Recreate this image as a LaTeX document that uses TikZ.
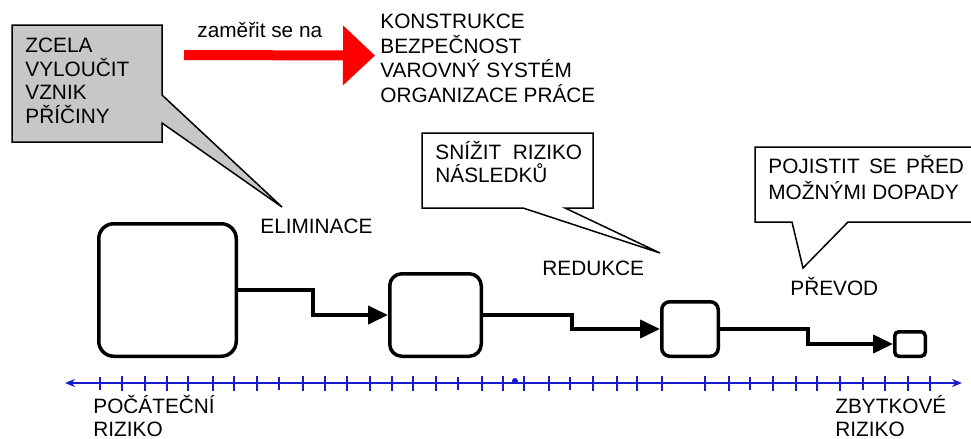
\documentclass[tikz,border=0pt]{standalone}
\usepackage{fontspec}
\setmainfont{Liberation Sans}
\usetikzlibrary{arrows.meta}
\definecolor{axisblue}{RGB}{25,25,205}

\begin{document}
\begin{tikzpicture}[x=0.5pt,y=-0.5pt,
    word/.style={inner sep=0pt, anchor=base west, font=\fontsize{10.4}{12.5}\selectfont},
    lines/.style={inner sep=0pt, anchor=north west, align=left, font=\fontsize{10.4}{#1}\selectfont},
    box/.style={draw, line width=1.75pt, rounded corners=#1},
    flow/.style={line width=2pt, -{Triangle[length=10pt,width=9pt]}},
    bubble/.style={draw, line width=0.75pt},
    tick/.style={axisblue, line width=1.4pt}]
    \useasboundingbox (0,0) rectangle (971,439);

      % callouts
      \draw[bubble, fill=black!22] (12,25)--(162,25)--(162,95)--(282,207)--(162,123)--(162,142)--(12,142)--cycle;
      \draw[bubble, fill=white] (422,133)--(593,133)--(593,208)--(565,208)--(660,253)--(523,208)--(422,208)--cycle;
      \draw[bubble, fill=white] (755,147)--(985,147)--(985,222)--(848,222)--(803,268)--(792,222)--(755,222)--cycle;

      \draw (25,32)node[lines=11.8pt](zcela){\rule{0pt}{10pt}ZCELA\\VYLOUČIT\\VZNIK\\PŘÍČINY};
      \draw (435,139)node[lines=11.75pt](snizit){\rule{0pt}{10pt}SNÍŽIT\ \ RIZIKO\\NÁSLEDKŮ};
      \draw (768,153)node[lines=13pt](pojistit){\rule{0pt}{10pt}POJISTIT\hspace{0.45em}SE\hspace{0.45em}PŘED\\MOŽNÝMI DOPADY};

      % red arrow
      \draw (197,38)node[word](zamerit){zaměřit se na};
      \draw (380,8)node[lines=12.35pt](list){\rule{0pt}{10pt}KONSTRUKCE\\BEZPEČNOST\\VAROVNÝ SYSTÉM\\ORGANIZACE PRÁCE};
      \coordinate (tail) at (184,55);
      \draw[red, line width=5pt, shorten >=2.5pt, -{Triangle[length=16pt,width=29pt]}] (tail) -- (list.west);

      \draw (260,233)node[word](elim){ELIMINACE};
      \draw (542,275)node[word](redukce){REDUKCE};
      \draw (790,295)node[word](prevod){PŘEVOD};

      % risk boxes
      \node[box=7.5pt, minimum width=68.75pt, minimum height=66.25pt] (b1) at (167.5,290) {};
      \node[box=6pt, minimum width=45.75pt, minimum height=41.25pt] (b2) at (435.5,315) {};
      \node[box=4pt, minimum width=28.25pt, minimum height=27.25pt] (b3) at (690,329) {};
      \node[box=2pt, minimum width=15.25pt, minimum height=12.25pt] (b4) at (910,344) {};

      \draw[flow] (b1.east) -- ++(75,0) |- (b2.west);
      \draw[flow] (b2.east) -- ++(89,0) |- (b3.west);
      \draw[flow] (b3.east) -- ++(88,0) |- (b4.west);

      % axis
      \coordinate (axl) at (65,383);
      \coordinate (axr) at (962,383);
      \draw[axisblue, line width=1pt, {Stealth[length=5pt,width=4pt]}-{Stealth[length=5pt,width=4pt]}] (axl) -- (axr);
      \foreach \x in {122,145,167,188,213,234,257,303,325,347,370,392,413,436,482,503,524,549,593,617,637,662,705,729,773,796,817,840,885,908,930}
        \draw[tick] (\x,376) -- (\x,391);
      \foreach \x in {100,279,458,570,750,863}
        \draw[tick, line width=0.6pt] (\x,377) -- (\x,390);
      \fill[axisblue] (515,381) circle (3);

      \draw (93,393)node[lines=11.5pt](pocatek){\rule{0pt}{10pt}POČÁTEČNÍ\\RIZIKO};
      \draw (835,393)node[lines=11.5pt](zbytek){\rule{0pt}{10pt}ZBYTKOVÉ\\RIZIKO};
  \end{tikzpicture}
\end{document}
